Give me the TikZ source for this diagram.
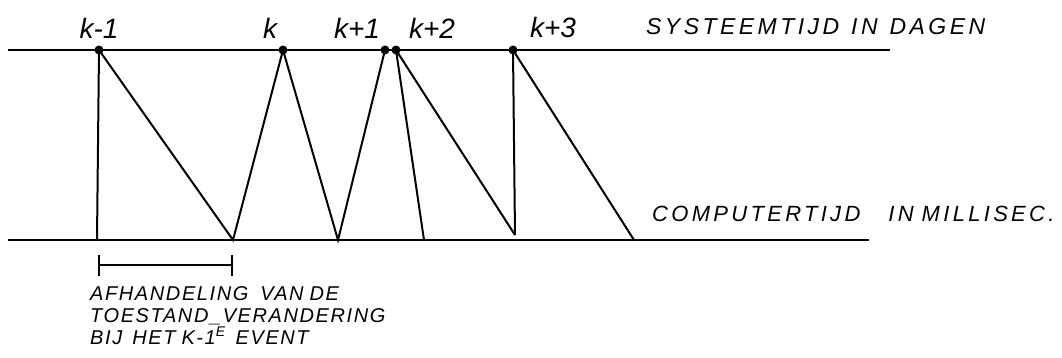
\documentclass[tikz,border=0pt]{standalone}
\usepackage{fontspec}
\setsansfont{Liberation Sans}
\newfontfamily\handfont[LetterSpace=15]{Liberation Sans}
\newfontfamily\notefont[LetterSpace=8]{Liberation Sans}
\usetikzlibrary{arrows.meta,positioning}
\tikzset{
  axis/.style={line width=2.8pt},
  link/.style={line width=2pt},
  event/.style={circle, fill, inner sep=0pt, minimum size=9pt},
  klabel/.style={font=\sffamily\itshape\fontsize{28}{30}\selectfont, inner sep=1pt},
  axlabel/.style={font=\handfont\itshape\fontsize{23}{26}\selectfont, inner sep=0pt, anchor=base west},
  note/.style={font=\notefont\itshape\fontsize{20}{22}\selectfont, align=left, inner sep=0pt, anchor=north west},
  span/.style={{Bar[width=21pt]}-{Bar[width=21pt]}, line width=2pt},
}

\begin{document}
\begin{tikzpicture}[x=1pt, y=-1pt, node distance=6pt]
  \useasboundingbox (0,0) rectangle (1062,358);

  % time axes
  \coordinate (sysL) at (8,50);
  \coordinate (sysR) at (890,50);
  \coordinate (comL) at (8,240);
  \coordinate (comR) at (869,240);
  \draw[axis] (sysL) -- (sysR);
  \draw[axis] (comL) -- (comR);

  % events in system time
  \node[event] (ev0) at (99,50) {};
  \node[event] (ev1) at (283,50) {};
  \node[event] (ev2) at (385,50) {};
  \node[event] (ev3) at (396,50) {};
  \node[event] (ev4) at (513,50) {};

  \node[klabel, above=of ev0] {k-1};
  \node[klabel, above=of ev1, xshift=-13pt] {k};
  \node[klabel, above=of ev2, xshift=-28pt] {k+1};
  \node[klabel, above=of ev3, xshift=36pt] {k+2};
  \node[klabel, above=of ev4, xshift=40pt] {k+3};

  % points in computer time
  \coordinate (cp0) at (97,240);
  \coordinate (cp1) at (233,240);
  \coordinate (cp2) at (338,240);
  \coordinate (cp3) at (424,240);
  \coordinate (cp4) at (515,235);
  \coordinate (cp5) at (634,240);

  \draw[link] (ev0.center) -- (cp0);
  \draw[link] (ev0.center) -- (cp1) -- (ev1.center) -- (cp2) -- (ev2.center);
  \draw[link] (ev3.center) -- (cp3);
  \draw[link] (ev3.center) -- (cp4);
  \draw[link] (ev4.center) -- (cp4);
  \draw[link] (ev4.center) -- (cp5);

  \node[axlabel] (systxt) at (646,35) {SYSTEEMTIJD\hspace{12pt}IN\hspace{12pt}DAGEN};
  \node[axlabel, font=\handfont\itshape\fontsize{22}{24}\selectfont] (comtxt) at (652,222) {COMPUTERTIJD\hspace{28pt}IN\hspace{8pt}MILLISEC.};

  % processing of the k-1 event
  \coordinate (spL) at (98,265);
  \coordinate (spR) at (233,265);
  \draw[span] (spL) -- (spR);
  \node[note] (proc) at (90,286) {AFHANDELING\hspace{12pt}VAN\hspace{6pt}DE\\TOESTAND\_VERANDERING\\BIJ\hspace{10pt}HET\hspace{6pt}K-1\textsuperscript{E}\hspace{10pt}EVENT};
\end{tikzpicture}
\end{document}
